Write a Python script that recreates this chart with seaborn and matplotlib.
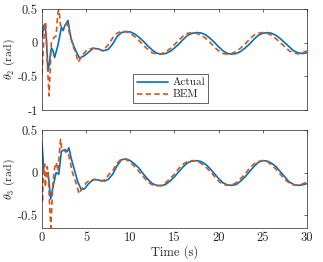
import numpy as np
import pandas as pd
import matplotlib
matplotlib.use("Agg")
import matplotlib.pyplot as plt
import seaborn as sns

# ---- data ----
# late-time samples (every 0.5 s from 8 to 30 s)
t_late = [8.0, 8.5, 9.0, 9.5, 10.0, 10.5, 11.0, 11.5, 12.0, 12.5, 13.0, 13.5,
          14.0, 14.5, 15.0, 15.5, 16.0, 16.5, 17.0, 17.5, 18.0, 18.5, 19.0, 19.5,
          20.0, 20.5, 21.0, 21.5, 22.0, 22.5, 23.0, 23.5, 24.0, 24.5, 25.0, 25.5,
          26.0, 26.5, 27.0, 27.5, 28.0, 28.5, 29.0, 29.5, 30.0]

# theta_2 -- Actual
t2_act_early = [0.0, 0.2, 0.35, 0.5, 0.68, 0.85, 0.98, 1.1, 1.25, 1.43, 1.8, 2.2,
                2.4, 2.57, 2.95, 3.1, 3.3, 3.6, 3.9, 4.27, 4.83, 5.2, 5.77, 6.34,
                6.9, 7.5]
th2_act_early = [0.08, 0.25, 0.28, 0.05, -0.42, -0.3, -0.12, -0.08, -0.12, -0.22, -0.04, 0.23,
                 0.18, 0.25, 0.33, 0.2, 0.06, -0.05, -0.14, -0.23, -0.19, -0.15, -0.085, -0.09,
                 -0.12, -0.1]
th2_act_late = [-0.02, 0.09, 0.15, 0.165, 0.16, 0.13, 0.08, 0.02, -0.05, -0.11, -0.155, -0.17,
                -0.16, -0.13, -0.08, -0.02, 0.05, 0.11, 0.14, 0.15, 0.145, 0.12, 0.07, 0.01,
                -0.06, -0.12, -0.16, -0.17, -0.16, -0.13, -0.08, -0.02, 0.05, 0.11, 0.14, 0.15,
                0.14, 0.11, 0.06, 0.0, -0.06, -0.12, -0.15, -0.16, -0.15]

# theta_2 -- BEM
t2_bem_early = [0.0, 0.15, 0.3, 0.42, 0.6, 0.8, 1.06, 1.36, 1.6, 1.8, 1.92, 2.1,
                2.5, 2.87, 3.1, 3.5, 3.9, 4.1, 4.5, 5.0, 5.6, 6.2, 6.9, 7.5]
th2_bem_early = [-0.46, -0.1, 0.25, 0.3, -0.3, -0.79, 0.0, 0.08, 0.1, 0.45, 0.49, 0.25,
                 0.25, 0.28, 0.15, -0.04, -0.19, -0.29, -0.2, -0.12, -0.085, -0.08, -0.12, -0.03]
th2_bem_late = [0.07, 0.14, 0.17, 0.165, 0.14, 0.09, 0.03, -0.04, -0.10, -0.15, -0.17, -0.165,
                -0.14, -0.09, -0.03, 0.04, 0.10, 0.14, 0.15, 0.14, 0.11, 0.07, 0.01, -0.06,
                -0.12, -0.16, -0.17, -0.16, -0.13, -0.08, -0.02, 0.05, 0.11, 0.14, 0.15, 0.14,
                0.11, 0.06, 0.0, -0.06, -0.12, -0.155, -0.165, -0.15, -0.12]

# theta_3 -- Actual
t3_act_early = [0.0, 0.23, 0.5, 0.7, 0.98, 1.25, 1.6, 1.9, 2.2, 2.57, 2.87, 3.05,
                3.3, 3.7, 4.08, 4.45, 4.83, 5.2, 5.6, 5.96, 6.5, 7.1, 7.5]
th3_act_early = [0.35, -0.02, -0.04, 0.0, -0.31, -0.17, 0.0, -0.02, 0.25, 0.27, 0.25, 0.29,
                 0.17, 0.02, -0.115, -0.2, -0.19, -0.14, -0.1, -0.08, -0.09, -0.1, -0.08]
th3_act_late = [-0.02, 0.08, 0.15, 0.16, 0.14, 0.10, 0.05, -0.02, -0.08, -0.13, -0.15, -0.155,
                -0.14, -0.10, -0.05, 0.01, 0.07, 0.115, 0.135, 0.14, 0.13, 0.10, 0.05, -0.01,
                -0.07, -0.12, -0.145, -0.15, -0.14, -0.10, -0.05, 0.01, 0.07, 0.12, 0.14, 0.135,
                0.11, 0.07, 0.01, -0.05, -0.11, -0.14, -0.15, -0.145, -0.13]

# theta_3 -- BEM
t3_bem_early = [0.0, 0.05, 0.15, 0.3, 0.37, 0.6, 0.75, 0.9, 1.0, 1.25, 1.43, 1.62,
                1.8, 2.1, 2.25, 2.5, 2.7, 2.9, 3.1, 3.45, 3.9, 4.2, 4.45, 5.0,
                5.4, 5.96, 6.7, 7.25, 7.5]
th3_bem_early = [-0.17, -0.35, 0.02, 0.1, -0.17, 0.07, -0.13, -0.45, -0.65, -0.1, 0.05, 0.12,
                 0.02, 0.39, 0.26, 0.26, 0.24, 0.25, 0.17, 0.0, -0.135, -0.25, -0.2, -0.12,
                 -0.09, -0.08, -0.1, -0.08, -0.03]
th3_bem_late = [0.02, 0.11, 0.16, 0.155, 0.12, 0.07, 0.01, -0.05, -0.11, -0.145, -0.155, -0.15,
                -0.12, -0.07, -0.02, 0.05, 0.10, 0.13, 0.14, 0.135, 0.11, 0.07, 0.02, -0.04,
                -0.10, -0.14, -0.15, -0.145, -0.12, -0.07, -0.02, 0.05, 0.10, 0.13, 0.14, 0.13,
                0.09, 0.04, -0.02, -0.08, -0.12, -0.145, -0.15, -0.135, -0.11]

blue = "#0072BD"
orange = "#D95319"

sns.set_style("white")
plt.rcParams["font.family"] = ["cmr10", "DejaVu Serif"]
plt.rcParams["mathtext.fontset"] = "cm"
plt.rcParams["axes.unicode_minus"] = False
plt.rcParams["axes.formatter.use_mathtext"] = True

fig = plt.figure(figsize=(3.23, 2.62), dpi=100)
ax1 = fig.add_axes([0.130, 0.580, 0.820, 0.3855])
ax2 = fig.add_axes([0.130, 0.130, 0.820, 0.374])


def draw(ax, ta, ya, tb, yb):
    df_a = pd.DataFrame({"t": ta, "y": ya})
    df_b = pd.DataFrame({"t": tb, "y": yb})
    sns.lineplot(data=df_a, x="t", y="y", ax=ax, color=blue, lw=1.2,
                 estimator=None, sort=False, label="Actual")
    sns.lineplot(data=df_b, x="t", y="y", ax=ax, color=orange, lw=1.2,
                 linestyle=(0, (3.2, 2.0)), estimator=None, sort=False, label="BEM")


draw(ax1, t2_act_early + t_late, th2_act_early + th2_act_late,
     t2_bem_early + t_late, th2_bem_early + th2_bem_late)
draw(ax2, t3_act_early + t_late, th3_act_early + th3_act_late,
     t3_bem_early + t_late, th3_bem_early + th3_bem_late)

for ax in (ax1, ax2):
    ax.set_xlim(0, 30)
    ax.set_xticks([0, 5, 10, 15, 20, 25, 30])
    for s in ax.spines.values():
        s.set_color("#262626")
        s.set_linewidth(0.5)
    ax.tick_params(direction="in", length=2.5, width=0.5, color="#262626",
                   labelsize=9, labelcolor="#262626", top=True, right=True, pad=3)
    ax.set_xlabel("")

ax1.set_ylim(-1, 0.5)
ax1.set_yticks([-1, -0.5, 0, 0.5])
ax1.set_yticklabels(["-1", "-0.5", "0", "0.5"])
ax1.tick_params(labelbottom=False)
ax1.set_ylabel(r"$\theta_2$ (rad)", fontsize=8.5, color="#262626")
ax1.yaxis.set_label_coords(-0.094, 0.5)

ax2.set_ylim(-0.65, 0.5)
ax2.set_yticks([-0.5, 0, 0.5])
ax2.set_yticklabels(["-0.5", "0", "0.5"])
ax2.set_xticklabels(["0", "5", "10", "15", "20", "25", "30"])
ax2.set_ylabel(r"$\theta_3$ (rad)", fontsize=8.5, color="#262626")
ax2.yaxis.set_label_coords(-0.094, 0.5)
ax2.set_xlabel("Time (s)", fontsize=9, labelpad=1, color="#262626")

ax2.get_legend().remove()
leg = ax1.legend(loc="center", bbox_to_anchor=(0.487, 0.213), fontsize=8,
                 fancybox=False, framealpha=1, edgecolor="#262626",
                 handlelength=2.8, handletextpad=0.4, borderpad=0.3,
                 labelspacing=0.2, borderaxespad=0)
leg.get_frame().set_linewidth(0.5)

fig.savefig("out.png", dpi=100)
